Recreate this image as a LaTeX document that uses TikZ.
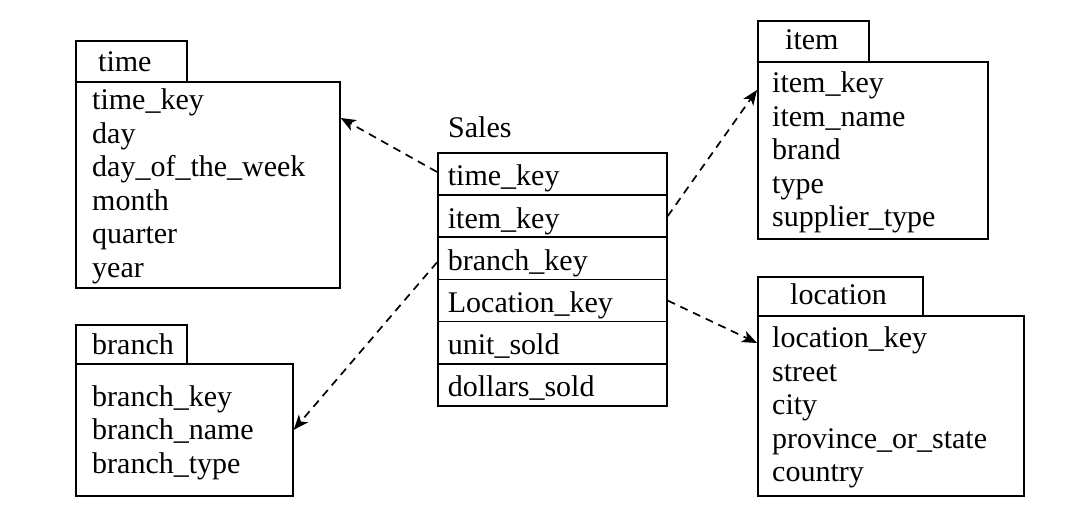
\documentclass[tikz,border=0pt]{standalone}
\usepackage{fontspec}
\setmainfont{Liberation Serif}
\usetikzlibrary{arrows.meta}
\begin{document}
\begin{tikzpicture}[x=1pt,y=-1pt,
  txt/.style={font=\fontsize{30}{33.5}\selectfont, inner sep=0pt, anchor=base west},
  frame/.style={draw, line width=1.7pt, inner sep=0pt, anchor=north west},
  link/.style={draw, line width=1.7pt, dash pattern=on 8pt off 6pt,
    -{Stealth[length=15pt,width=12pt,inset=4pt]}},
  row/.style={draw, line width=1.7pt, anchor=north west, minimum width=229pt,
    text width=209pt, align=left, inner xsep=10pt, inner ysep=0pt,
    text height=33pt, text depth=9.2pt, font=\fontsize{30}{33.5}\selectfont}]
\useasboundingbox (0,0) rectangle (1090,526);

% ---------- time ----------
\node[frame, minimum width=111pt, minimum height=41pt] (timetab) at (75,40) {};
\node[frame, minimum width=264pt, minimum height=206pt] (timebox) at (75,81) {};
\node[txt] (timetitle) at (98,72) {time};
\node[txt] (t1) at (92,110) {time\_key};
\node[txt] (t2) at (92,143.5) {day};
\node[txt] (t3) at (92,177) {day\_of\_the\_week};
\node[txt] (t4) at (92,210.5) {month};
\node[txt] (t5) at (92,244) {quarter};
\node[txt] (t6) at (92,277.5) {year};

% ---------- branch ----------
\node[frame, minimum width=111pt, minimum height=39pt] (branchtab) at (75,324) {};
\node[frame, minimum width=217pt, minimum height=132pt] (branchbox) at (75,363) {};
\node[txt] (branchtitle) at (92,355) {branch};
\node[txt] (b1) at (92,407) {branch\_key};
\node[txt] (b2) at (92,440) {branch\_name};
\node[txt] (b3) at (92,473) {branch\_type};

% ---------- item ----------
\node[frame, minimum width=111pt, minimum height=41pt] (itemtab) at (757,20) {};
\node[frame, minimum width=230pt, minimum height=177pt] (itembox) at (757,61) {};
\node[txt] (itemtitle) at (785,50) {item};
\node[txt] (i1) at (772,93) {item\_key};
\node[txt] (i2) at (772,126.5) {item\_name};
\node[txt] (i3) at (772,160) {brand};
\node[txt] (i4) at (772,193.5) {type};
\node[txt] (i5) at (772,227) {supplier\_type};

% ---------- location ----------
\node[frame, minimum width=165pt, minimum height=39pt] (loctab) at (757,276) {};
\node[frame, minimum width=266pt, minimum height=180pt] (locbox) at (757,315) {};
\node[txt] (loctitle) at (790,305) {location};
\node[txt] (l1) at (772,348) {location\_key};
\node[txt] (l2) at (772,381.5) {street};
\node[txt] (l3) at (772,415) {city};
\node[txt] (l4) at (772,448.5) {province\_or\_state};
\node[txt] (l5) at (772,482) {country};

% ---------- Sales ----------
\node[txt] (salestitle) at (448,138) {Sales};
\node[row] (s1) at (437,152) {time\_key};
\node[row] (s2) at (437,194.2) {item\_key};
\node[row] (s3) at (437,236.4) {branch\_key};
\node[row] (s4) at (437,278.6) {Location\_key};
\node[row] (s5) at (437,320.8) {unit\_sold};
\node[row] (s6) at (437,363) {dollars\_sold};

% ---------- connectors ----------
\draw[link] ([yshift=2pt]s1.west) -- ([yshift=-37pt]timebox.north east);
\draw[link] (s2.east) -- ([yshift=-29pt]itembox.north west);
\draw[link] ([yshift=-4pt]s3.west) -- (branchbox.east);
\draw[link] (s4.east) -- ([yshift=-28pt]locbox.north west);
\end{tikzpicture}
\end{document}
